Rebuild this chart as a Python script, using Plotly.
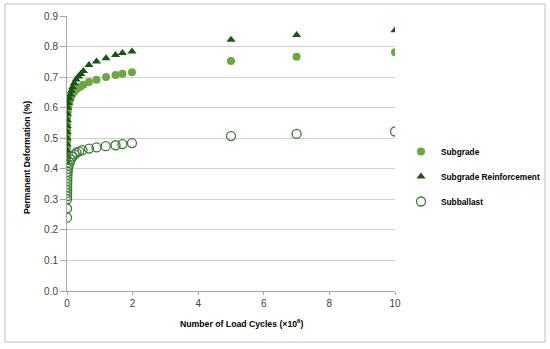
import plotly.graph_objects as go

# ---- data (x in millions of load cycles, y in % permanent deformation) ----
subgrade_x = [0.001, 0.002, 0.003, 0.004, 0.005, 0.006, 0.008, 0.01, 0.02, 0.04, 0.07, 0.1, 0.15, 0.22,
              0.3, 0.4, 0.5, 0.67, 0.9, 1.19, 1.48, 1.69, 1.98, 5, 7, 10]
subgrade_y = [0.43, 0.45, 0.47, 0.49, 0.51, 0.53, 0.55, 0.57, 0.585, 0.60, 0.615, 0.628, 0.640, 0.652,
              0.661, 0.668, 0.675, 0.684, 0.691, 0.700, 0.707, 0.711, 0.716, 0.753, 0.767, 0.781]

reinf_x = [0.001, 0.002, 0.003, 0.004, 0.005, 0.006, 0.007, 0.008, 0.01, 0.02, 0.04, 0.07, 0.1, 0.13,
           0.17, 0.22, 0.28, 0.35, 0.42, 0.5, 0.67, 0.9, 1.19, 1.48, 1.69, 1.98, 5, 7, 10]
reinf_y = [0.42, 0.44, 0.46, 0.48, 0.50, 0.52, 0.54, 0.56, 0.58, 0.60, 0.615, 0.63, 0.643, 0.655,
           0.667, 0.68, 0.692, 0.702, 0.71, 0.72, 0.74, 0.751, 0.762, 0.772, 0.779, 0.784, 0.822, 0.838, 0.853]

subballast_x = [0.0005, 0.001, 0.002, 0.003, 0.004, 0.005, 0.006, 0.007, 0.008, 0.01, 0.015, 0.02, 0.03,
                0.05, 0.08, 0.12, 0.17, 0.23, 0.29, 0.37, 0.47, 0.67, 0.9, 1.18, 1.48, 1.69, 1.98, 5, 7, 10]
subballast_y = [0.24, 0.27, 0.30, 0.31, 0.32, 0.33, 0.34, 0.35, 0.36, 0.37, 0.38, 0.39, 0.40,
                0.41, 0.42, 0.43, 0.44, 0.447, 0.453, 0.457, 0.461, 0.466, 0.470, 0.474, 0.477, 0.481, 0.484,
                0.507, 0.514, 0.522]

x_ticks = [0, 2, 4, 6, 8, 10]
y_ticks = [0.0, 0.1, 0.2, 0.3, 0.4, 0.5, 0.6, 0.7, 0.8, 0.9]

FONT = "Liberation Sans, Arial, sans-serif"

fig = go.Figure()
fig.add_trace(go.Scatter(x=subgrade_x, y=subgrade_y, mode="markers", name="<b>Subgrade</b>",
                         legendgroup="a",
                         marker=dict(symbol="circle", size=8, color="#6aa842")))
fig.add_trace(go.Scatter(x=reinf_x, y=reinf_y, mode="markers", name="<b>Subgrade Reinforcement</b>",
                         legendgroup="b",
                         marker=dict(symbol="triangle-up", size=8, color="#1b5316")))
fig.add_trace(go.Scatter(x=subballast_x, y=subballast_y, mode="markers", name="<b>Subballast</b>",
                         legendgroup="c",
                         marker=dict(symbol="circle-open", size=9, color="#3d7a35",
                                     line=dict(width=1.3, color="#3d7a35"))))

L, R, T, B = 67, 155, 16, 58
W, H = 550, 349
pw, ph = W - L - R, H - T - B

def px(xp):
    return (xp - L) / pw

def py(yp):
    return (H - B - yp) / ph

fig.update_layout(
    width=W, height=H,
    margin=dict(l=L, r=R, t=T, b=B, autoexpand=False),
    paper_bgcolor="white", plot_bgcolor="white",
    showlegend=True,
    legend=dict(x=px(401), y=py(137), xanchor="left", yanchor="top",
                font=dict(family=FONT, size=8.3, color="#000000"),
                tracegroupgap=6, itemwidth=30, bgcolor="rgba(0,0,0,0)"),
    xaxis=dict(range=[0, 10], tickvals=x_ticks, ticktext=[str(v) for v in x_ticks],
               showgrid=False, zeroline=False, showline=True, linecolor="#a6a6a6", linewidth=1,
               ticks="outside", ticklen=3, tickcolor="#a6a6a6",
               tickfont=dict(family=FONT, size=10, color="#404040")),
    yaxis=dict(range=[0, 0.9], tickvals=y_ticks, ticktext=[f"{v:.1f}" for v in y_ticks],
               showgrid=True, gridcolor="#d0d0d0", gridwidth=1, zeroline=False,
               showline=True, linecolor="#a6a6a6", linewidth=1,
               ticks="outside", ticklen=6, tickcolor="#a6a6a6",
               tickfont=dict(family=FONT, size=10, color="#404040")),
    shapes=[dict(type="rect", xref="paper", yref="paper",
                 x0=px(5), x1=px(545), y0=py(342), y1=py(4),
                 line=dict(color="#bfbfbf", width=1), fillcolor="rgba(0,0,0,0)", layer="below")],
    annotations=[
        dict(text="<b>Number of Load Cycles (×10<sup>6</sup>)</b>", xref="paper", yref="paper",
             x=px(241), y=py(323), showarrow=False, xanchor="center", yanchor="middle",
             font=dict(family=FONT, size=8.7, color="#000000")),
        dict(text="<b>Permanent Deformation (%)</b>", xref="paper", yref="paper",
             x=px(27), y=py(158), showarrow=False, textangle=-90, xanchor="center", yanchor="middle",
             font=dict(family=FONT, size=8.6, color="#000000")),
    ],
)

fig.write_html("out.html",
               config={"displayModeBar": False},
               post_script="document.body.style.margin='0';document.body.style.padding='0';")
